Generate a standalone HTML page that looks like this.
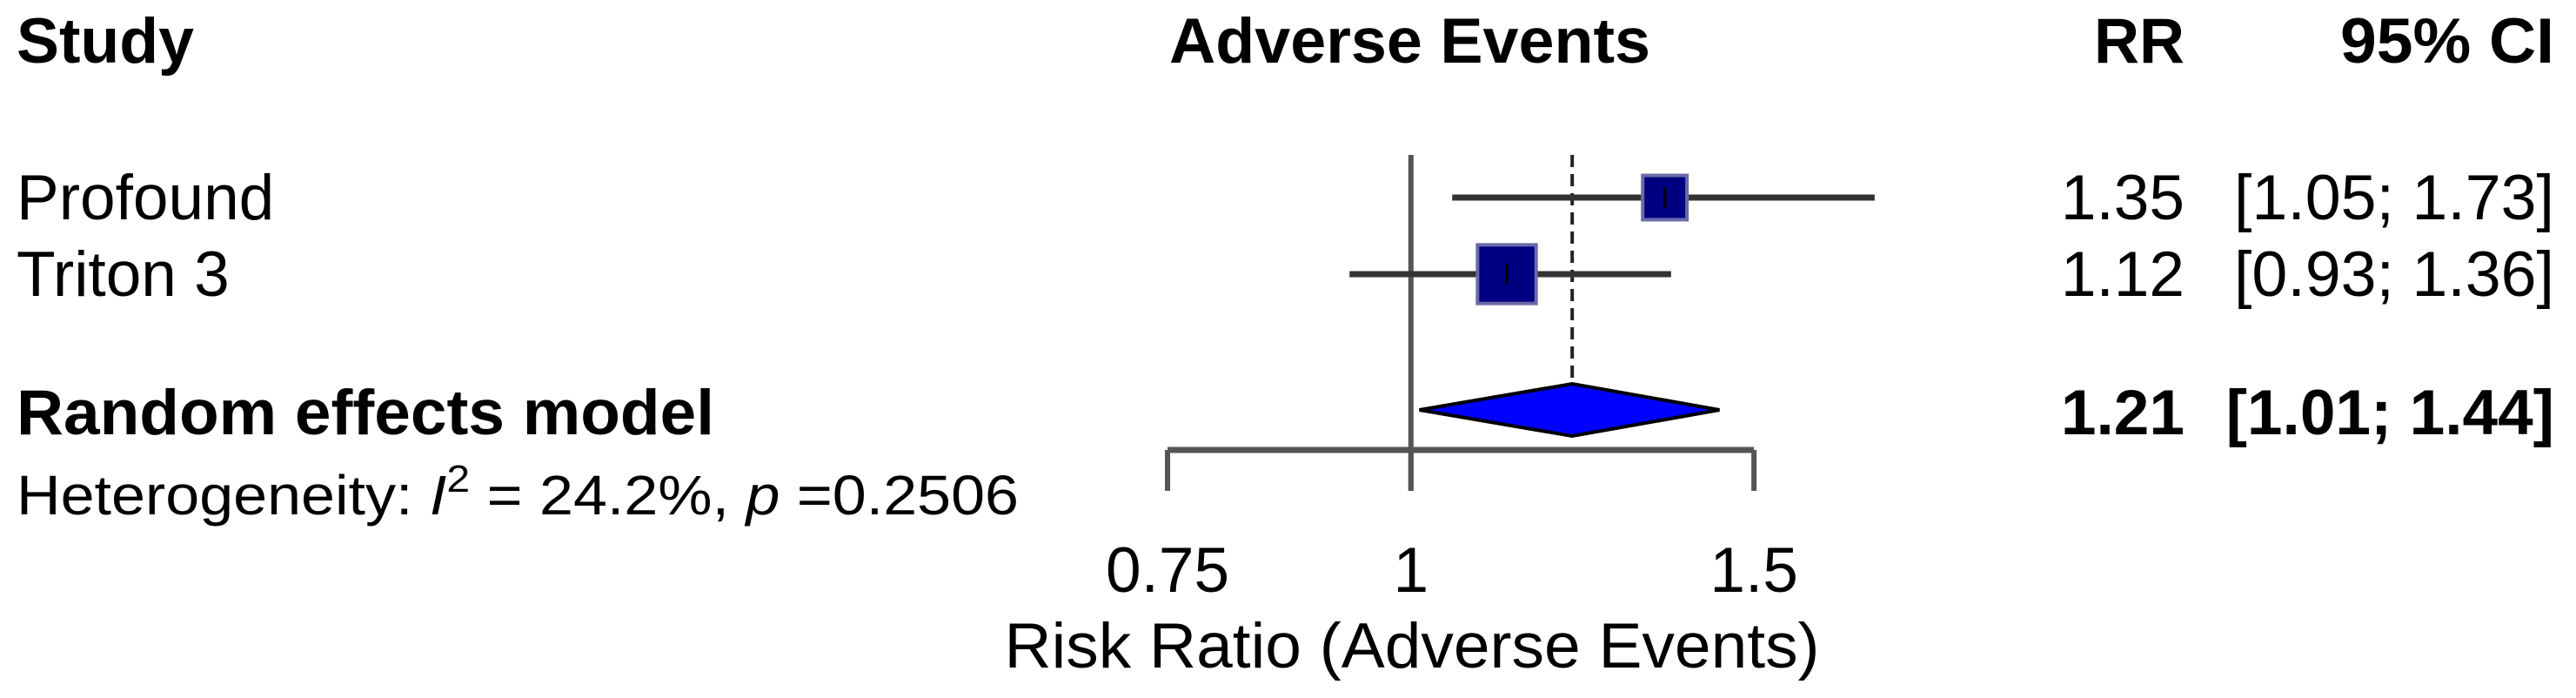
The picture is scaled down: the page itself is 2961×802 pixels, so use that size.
<!DOCTYPE html>
<html><head><meta charset="utf-8"><style>
html,body{margin:0;padding:0;background:#fff;}
svg{display:block;font-family:"Liberation Sans",Arial,sans-serif;}
</style></head><body>
<svg id="chart" width="2961" height="802" viewBox="0 0 2961 802" xmlns="http://www.w3.org/2000/svg">
<g font-size="73" fill="#000">
<text x="19" y="72" font-weight="bold" textLength="204" lengthAdjust="spacingAndGlyphs">Study</text>
<text x="1344" y="72" font-weight="bold" textLength="553" lengthAdjust="spacingAndGlyphs">Adverse Events</text>
<text x="2407" y="72" font-weight="bold" textLength="104" lengthAdjust="spacingAndGlyphs">RR</text>
<text x="2690" y="72" font-weight="bold" textLength="246" lengthAdjust="spacingAndGlyphs">95% CI</text>
</g>
<g id="marks"></g>
<g font-size="73" fill="#000" id="texts"></g>
</svg>
<script>
const studies = ["Profound", "Triton 3"];
const rr = [1.35, 1.12];
const lower = [1.05, 0.93];
const upper = [1.73, 1.36];
const rrLabels = ["1.35", "1.12"];
const ciLabels = ["[1.05; 1.73]", "[0.93; 1.36]"];
const weights = [0.32, 0.56];
const pooled = [1.21, 1.01, 1.44];
const pooledLabels = ["1.21", "[1.01; 1.44]"];
const ticks = [0.75, 1, 1.5];
const tickLabels = ["0.75", "1", "1.5"];

const NS = "http://www.w3.org/2000/svg";
const x = v => 1621.8 + Math.log(v) * 972.5;
const rowY = [227, 315];
const marks = document.getElementById('marks');
const texts = document.getElementById('texts');
function mk(tag, attrs, parent){ const e=document.createElementNS(NS,tag); for(const k in attrs) e.setAttribute(k,attrs[k]); parent.appendChild(e); return e; }

let nl = mk('line',{x1:x(1),x2:x(1),y1:178,y2:564,stroke:'#555','stroke-width':6},marks);


let dl = mk('line',{x1:x(pooled[0]),x2:x(pooled[0]),y1:178,y2:442,stroke:'#222','stroke-width':4,'stroke-dasharray':'14,8'},marks);



studies.forEach((s,i)=>{
  const y=rowY[i];
  const l=mk('line',{x1:x(lower[i]),x2:x(upper[i]),y1:y,y2:y,stroke:'#333','stroke-width':7},marks);
  
  
  const sz=Math.sqrt(weights[i])*90;
  const r=mk('rect',{x:x(rr[i])-sz/2,y:y-sz/2,width:sz,height:sz,fill:'#000080',stroke:'#6a6aa8','stroke-width':4},marks);
  
  
  const c=mk('line',{x1:x(rr[i]),x2:x(rr[i]),y1:y-12,y2:y+12,stroke:'#000','stroke-width':3},marks);
  
  
  const t=mk('text',{x:19,y:y+25},texts); t.textContent=s;
  
  
  const a=mk('text',{x:2511,y:y+25,'text-anchor':'end'},texts); a.textContent=rrLabels[i];
  
  
  const b=mk('text',{x:2936,y:y+25,'text-anchor':'end',textLength:368,lengthAdjust:'spacingAndGlyphs'},texts); b.textContent=ciLabels[i];
  
  
});

const dy=471;
const d=mk('polygon',{points:`${x(pooled[1])},${dy} ${x(pooled[0])},${dy-30} ${x(pooled[2])},${dy} ${x(pooled[0])},${dy+30}`,fill:'#0000ff',stroke:'#000','stroke-width':4},marks);



const ax=mk('line',{x1:x(ticks[0]),x2:x(ticks[ticks.length-1]),y1:517,y2:517,stroke:'#555','stroke-width':7},marks);


ticks.forEach((v,i)=>{
  const tk=mk('line',{x1:x(v),x2:x(v),y1:517,y2:564,stroke:'#555','stroke-width':6},marks);
  
  
  const tl=mk('text',{x:x(v),y:680,'text-anchor':'middle'},texts); tl.textContent=tickLabels[i];
  
  
});

let t=mk('text',{x:19,y:499,'font-weight':'bold',textLength:802,lengthAdjust:'spacingAndGlyphs'},texts); t.textContent='Random effects model';


t=mk('text',{x:2511,y:499,'text-anchor':'end','font-weight':'bold'},texts); t.textContent=pooledLabels[0];


t=mk('text',{x:2936,y:499,'text-anchor':'end','font-weight':'bold'},texts); t.textContent=pooledLabels[1];


t=mk('text',{x:1623,y:767,'text-anchor':'middle',textLength:937,lengthAdjust:'spacingAndGlyphs'},texts); t.textContent='Risk Ratio (Adverse Events)';


t=mk('text',{x:19,y:591,'font-size':64,textLength:1152,lengthAdjust:'spacingAndGlyphs'},texts);
t.innerHTML='Heterogeneity: <tspan font-style="italic">I</tspan><tspan dy="-26" font-size="44">2</tspan><tspan dy="26"> = 24.2%, </tspan><tspan font-style="italic">p</tspan> =0.2506';


</script>
</body></html>
